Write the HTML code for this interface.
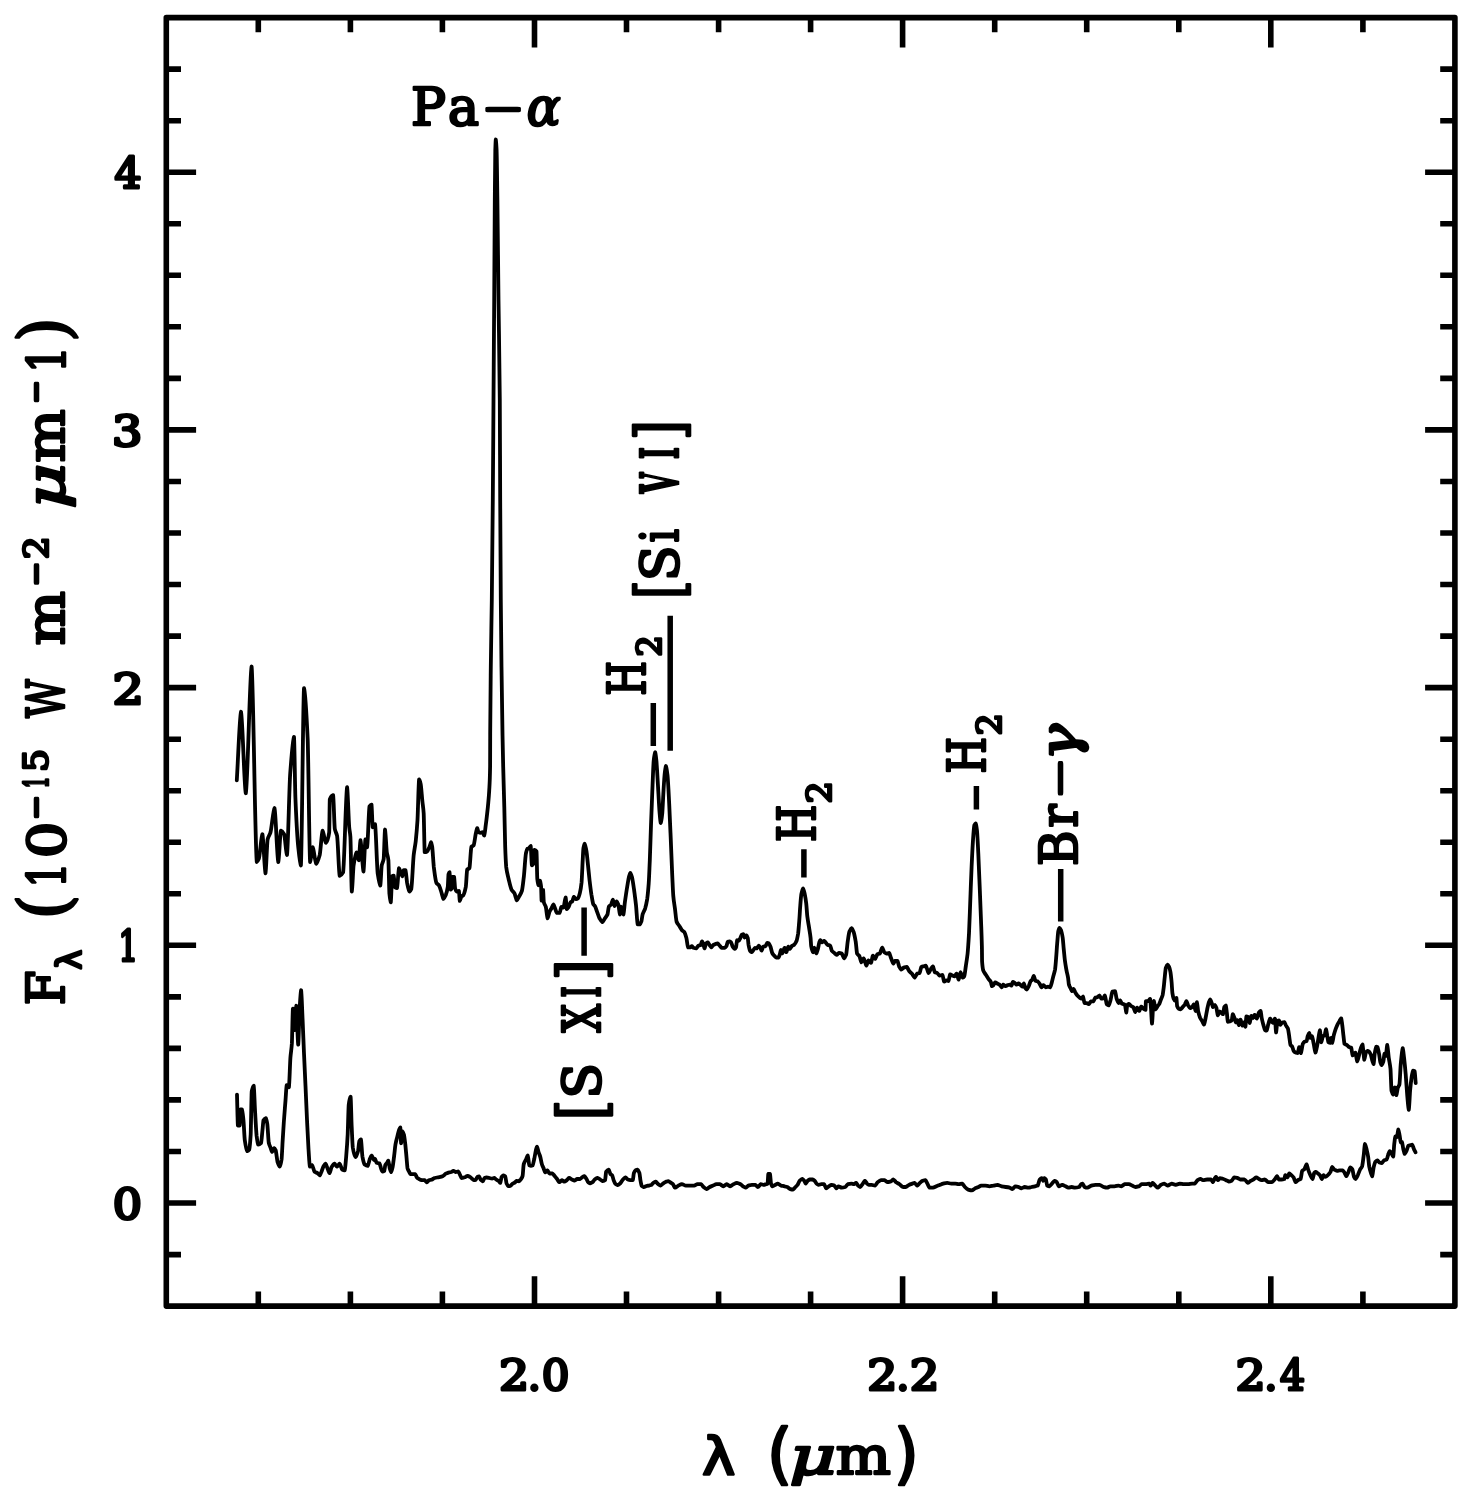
<!DOCTYPE html>
<html><head><meta charset="utf-8"><title>Spectrum</title>
<style>html,body{margin:0;padding:0;background:#fff}svg{display:block}</style></head>
<body>
<svg width="1469" height="1497" viewBox="0 0 1469 1497">
<rect width="1469" height="1497" fill="#fff"/>
<rect x="166.3" y="17.6" width="1288.6" height="1288.5" fill="none" stroke="#000" stroke-width="5.6" stroke-linejoin="round"/>
<path d="M258.3 1306.1V1291.4M258.3 17.6V32.3M350.4 1306.1V1291.4M350.4 17.6V32.3M442.4 1306.1V1291.4M442.4 17.6V32.3M534.5 1306.1V1276.3M534.5 17.6V47.4M626.5 1306.1V1291.4M626.5 17.6V32.3M718.6 1306.1V1291.4M718.6 17.6V32.3M810.6 1306.1V1291.4M810.6 17.6V32.3M902.6 1306.1V1276.3M902.6 17.6V47.4M994.7 1306.1V1291.4M994.7 17.6V32.3M1086.7 1306.1V1291.4M1086.7 17.6V32.3M1178.8 1306.1V1291.4M1178.8 17.6V32.3M1270.8 1306.1V1276.3M1270.8 17.6V47.4M1362.9 1306.1V1291.4M1362.9 17.6V32.3M166.3 1254.6H181.0M1454.9 1254.6H1440.2M166.3 1203.0H196.1M1454.9 1203.0H1425.1M166.3 1151.5H181.0M1454.9 1151.5H1440.2M166.3 1099.9H181.0M1454.9 1099.9H1440.2M166.3 1048.4H181.0M1454.9 1048.4H1440.2M166.3 996.9H181.0M1454.9 996.9H1440.2M166.3 945.3H196.1M1454.9 945.3H1425.1M166.3 893.8H181.0M1454.9 893.8H1440.2M166.3 842.2H181.0M1454.9 842.2H1440.2M166.3 790.7H181.0M1454.9 790.7H1440.2M166.3 739.2H181.0M1454.9 739.2H1440.2M166.3 687.6H196.1M1454.9 687.6H1425.1M166.3 636.1H181.0M1454.9 636.1H1440.2M166.3 584.5H181.0M1454.9 584.5H1440.2M166.3 533.0H181.0M1454.9 533.0H1440.2M166.3 481.5H181.0M1454.9 481.5H1440.2M166.3 429.9H196.1M1454.9 429.9H1425.1M166.3 378.4H181.0M1454.9 378.4H1440.2M166.3 326.8H181.0M1454.9 326.8H1440.2M166.3 275.3H181.0M1454.9 275.3H1440.2M166.3 223.8H181.0M1454.9 223.8H1440.2M166.3 172.2H196.1M1454.9 172.2H1425.1M166.3 120.7H181.0M1454.9 120.7H1440.2M166.3 69.1H181.0M1454.9 69.1H1440.2" fill="none" stroke="#000" stroke-width="5.6"/>
<path d="M584.1 907.6V955.8M653.3 703V746M670.2 615.7V750.7M803.9 849.3V877.5M976.4 786V809.6M1060.7 868.9V921.6" fill="none" stroke="#000" stroke-width="5.5"/>
<path d="M236.8 780.3C238.2 757.4 239.6 716.3 241.0 711.7C242.6 717.1 244.2 787.9 245.8 793.3C247.7 784.8 249.7 675.0 251.6 666.5C253.3 679.5 255.1 849.0 256.8 862.0C257.5 861.8 258.2 860.2 258.9 858.5C260.1 854.5 261.2 835.8 262.4 834.2C263.4 836.8 264.5 870.6 265.5 873.2C266.2 870.9 266.9 844.1 267.6 839.4C268.6 835.6 269.5 835.5 270.5 832.4C271.8 827.2 273.2 809.7 274.5 808.1C275.8 811.7 277.0 858.4 278.3 862.0C279.2 859.9 280.0 832.8 280.9 830.7C282.0 830.9 283.0 832.3 284.1 834.2C285.1 837.1 286.0 853.6 287.0 855.0C288.0 849.7 289.1 792.4 290.1 775.1C291.4 757.5 292.7 739.4 294.0 736.9C294.5 741.0 294.9 783.7 295.4 797.7C296.3 819.3 297.1 834.3 298.0 844.6C299.0 854.0 299.9 864.0 300.9 865.4C301.9 853.6 303.0 700.0 304.0 688.2C305.2 691.6 306.5 713.7 307.7 739.5C308.5 762.2 309.3 853.8 310.1 862.0C311.0 861.0 311.8 848.2 312.7 847.2C313.9 848.3 315.0 862.6 316.2 863.7C317.4 863.1 318.5 859.2 319.7 855.0C320.7 850.4 321.6 832.3 322.6 830.7C323.7 831.5 324.7 842.0 325.8 842.8C326.9 842.1 328.1 839.7 329.2 832.4C329.4 829.0 329.6 802.1 329.8 799.4C330.9 796.2 332.0 795.4 333.1 795.1C333.7 797.4 334.2 824.2 334.8 828.9C335.6 832.7 336.3 832.4 337.1 835.9C338.0 842.0 338.8 873.2 339.7 875.9C340.8 875.7 342.0 874.4 343.1 872.4C344.4 864.7 345.8 792.9 347.1 787.2C347.8 789.9 348.5 818.4 349.2 827.2C349.6 831.3 350.0 832.0 350.4 836.8C350.9 845.3 351.3 887.9 351.8 891.5C352.4 889.8 353.0 870.6 353.6 865.4C354.6 859.0 355.5 853.3 356.5 852.4C357.3 852.9 358.0 859.7 358.8 860.2C359.4 858.9 359.9 841.5 360.5 840.2C361.5 842.3 362.5 869.4 363.5 871.5C364.1 869.4 364.8 841.5 365.4 839.4C366.0 839.9 366.5 846.7 367.1 847.2C367.9 844.5 368.7 810.2 369.5 806.4C370.2 805.4 370.8 804.7 371.5 804.6C371.9 806.1 372.3 825.7 372.7 827.2C373.3 827.0 373.8 825.2 374.4 824.6C374.6 824.4 374.8 824.1 375.0 824.1C375.9 827.4 376.8 865.0 377.7 873.6C378.6 879.5 379.4 884.8 380.3 885.6C380.8 884.3 381.2 868.9 381.7 865.5C382.4 862.1 383.0 862.6 383.7 858.9C384.1 854.8 384.6 831.5 385.0 829.5C385.6 831.0 386.2 847.3 386.8 852.2C387.3 855.8 387.9 855.7 388.4 860.2C388.7 864.9 389.1 888.5 389.4 893.6C389.9 898.2 390.3 901.7 390.8 902.3C391.2 900.6 391.7 878.2 392.1 876.2C392.6 875.8 393.2 875.6 393.7 875.6C394.1 876.4 394.4 885.8 394.8 886.9C395.5 887.7 396.3 888.1 397.0 888.2C397.7 886.9 398.3 869.5 399.0 868.2C399.5 868.4 399.9 870.5 400.4 871.6C401.1 873.2 401.7 875.9 402.4 876.2C402.8 875.8 403.3 870.6 403.7 870.2C404.3 870.2 404.9 870.2 405.5 870.2C406.0 871.0 406.6 879.9 407.1 882.9C407.9 886.7 408.7 891.0 409.5 891.6C410.1 891.4 410.7 890.3 411.3 888.9C412.1 885.0 412.9 862.9 413.7 854.9C414.4 849.2 415.0 847.0 415.7 841.5C416.3 835.9 416.9 829.4 417.5 820.1C418.0 810.4 418.6 782.1 419.1 779.4C419.6 779.7 420.2 781.9 420.7 784.1C421.3 787.3 421.8 795.8 422.4 801.4C422.8 805.6 423.3 807.3 423.7 813.5C424.0 820.2 424.4 849.6 424.7 852.2C425.5 852.2 426.3 851.9 427.1 851.5C427.9 850.9 428.7 848.6 429.5 846.8C430.0 845.5 430.6 842.5 431.1 842.2C431.5 842.5 431.8 844.7 432.2 846.8C432.7 850.7 433.3 861.9 433.8 866.9C434.7 873.9 435.5 880.6 436.4 882.9C437.3 884.3 438.2 884.3 439.1 885.6C440.0 887.2 440.9 890.8 441.8 893.6C442.3 895.3 442.9 898.5 443.4 898.9C444.2 898.6 445.0 896.7 445.8 894.9C446.5 893.1 447.1 891.3 447.8 886.9C448.0 884.7 448.3 875.8 448.5 874.2C448.8 873.1 449.2 872.3 449.5 872.2C449.9 873.4 450.3 888.4 450.7 889.6C451.1 889.5 451.4 889.0 451.8 888.2C452.0 887.0 452.3 877.7 452.5 876.9C453.0 876.9 453.6 876.9 454.1 876.9C454.4 877.7 454.8 886.4 455.1 888.2C455.6 890.0 456.2 891.4 456.7 891.6C457.4 891.6 458.2 890.9 458.9 890.9C459.2 891.6 459.5 900.2 459.8 900.9C460.4 900.6 460.9 896.9 461.5 896.3C462.0 895.9 462.6 896.0 463.1 895.6C464.0 894.5 464.9 891.4 465.8 886.9C466.3 883.7 466.7 871.1 467.2 869.5C467.9 868.7 468.7 869.0 469.4 868.2C470.1 866.2 470.7 848.8 471.4 846.8C472.1 846.0 472.9 846.2 473.6 845.5C474.3 844.1 475.1 836.9 475.8 833.5C476.3 831.5 476.7 828.5 477.2 828.1C477.6 828.4 478.1 831.7 478.5 832.2C479.2 832.6 479.8 832.8 480.5 832.8C481.2 832.8 481.8 832.2 482.5 832.2C483.1 832.4 483.6 835.3 484.2 835.5C484.8 834.7 485.3 828.3 485.9 824.1C486.6 818.9 487.2 813.4 487.9 806.8C488.3 802.2 488.8 797.8 489.2 790.8C489.5 785.1 489.8 783.7 490.1 766.7C490.1 762.8 490.2 741.2 490.2 734.0C490.4 699.4 490.6 685.2 490.8 667.0C491.1 639.7 491.5 625.9 491.8 600.0C492.1 571.9 492.5 538.4 492.8 500.0C493.0 471.1 493.3 433.3 493.5 400.0C493.7 366.7 494.0 335.4 494.2 300.0C494.4 268.7 494.6 226.5 494.8 200.0C495.0 180.1 495.1 158.0 495.3 150.0C495.5 144.7 495.6 140.2 495.8 139.5C496.1 140.2 496.3 144.7 496.6 150.0C496.9 158.0 497.1 181.0 497.4 200.0C497.8 228.2 498.1 268.8 498.5 300.0C498.9 335.6 499.4 348.3 499.8 400.0C499.9 420.5 500.1 471.7 500.2 500.0C500.4 539.1 500.6 573.7 500.8 600.0C501.0 627.3 501.3 647.7 501.5 667.0C501.8 692.7 502.2 714.9 502.5 734.0C502.7 746.4 503.0 757.1 503.2 767.0C503.6 781.8 503.9 792.6 504.3 807.0C504.6 819.3 504.9 837.7 505.2 847.0C505.5 855.7 505.9 863.3 506.2 867.0C507.0 873.4 507.8 875.5 508.6 879.0C509.6 883.0 510.5 887.4 511.5 889.6C512.5 891.5 513.6 891.8 514.6 893.6C515.3 895.1 516.1 899.9 516.8 900.3C517.6 900.0 518.4 897.7 519.2 896.3C520.1 894.6 521.0 893.6 521.9 890.9C522.6 888.2 523.2 881.9 523.9 876.2C524.6 869.9 525.2 857.7 525.9 853.5C526.4 851.3 526.8 849.3 527.3 848.8C527.8 848.6 528.3 848.6 528.8 848.4C529.4 848.0 530.1 846.2 530.7 846.0C531.1 847.3 531.5 864.0 531.9 865.3C532.4 865.2 533.0 864.7 533.5 863.7C533.8 862.2 534.2 850.8 534.5 849.9C535.2 850.0 535.8 850.4 536.5 851.4C536.8 853.6 537.0 875.3 537.3 879.1C537.7 882.5 538.1 884.8 538.5 885.2C539.0 884.9 539.4 880.9 539.9 880.6C540.3 881.0 540.7 883.3 541.1 886.8C541.3 889.0 541.4 899.7 541.6 900.6C542.1 899.9 542.6 890.6 543.1 889.9C543.3 890.7 543.6 900.4 543.8 902.1C544.5 904.9 545.1 904.6 545.8 906.8C546.4 909.2 547.0 917.5 547.6 918.3C548.3 917.8 548.9 913.0 549.6 911.4C550.1 910.4 550.6 909.9 551.1 909.1C551.9 907.7 552.6 904.8 553.4 904.5C554.0 904.8 554.7 907.5 555.3 909.1C555.8 910.3 556.3 912.6 556.8 912.9C557.7 912.9 558.7 912.9 559.6 912.9C560.2 912.5 560.8 907.2 561.4 906.8C562.1 906.8 562.7 907.5 563.4 907.5C564.2 906.8 564.9 898.2 565.7 897.5C566.1 898.3 566.4 908.3 566.8 909.1C567.3 909.0 567.8 908.2 568.3 907.5C569.1 906.2 569.9 902.9 570.7 902.1C571.2 901.8 571.7 901.8 572.2 901.4C572.8 900.7 573.3 897.1 573.9 896.8C574.6 897.0 575.3 898.9 576.0 899.1C576.7 899.0 577.3 898.7 578.0 898.3C578.6 897.6 579.3 895.3 579.9 892.9C580.5 890.4 581.0 887.5 581.6 882.2C581.9 878.2 582.3 868.5 582.6 862.2C582.9 857.3 583.1 850.7 583.4 848.4C583.8 846.0 584.2 844.0 584.6 843.7C585.2 844.2 585.9 848.0 586.5 851.4C586.9 854.0 587.3 858.5 587.7 862.2C588.3 868.1 589.0 875.0 589.6 880.6C590.2 885.6 590.8 890.6 591.4 894.5C592.1 898.4 592.7 903.0 593.4 904.5C593.9 905.2 594.4 905.3 594.9 906.0C595.7 907.3 596.4 910.1 597.2 912.1C598.0 914.2 598.7 916.8 599.5 918.3C600.4 919.9 601.4 921.8 602.3 922.1C603.2 921.8 604.0 919.6 604.9 918.3C605.8 917.0 606.6 916.4 607.5 914.4C607.9 913.0 608.4 907.9 608.8 906.8C609.6 905.5 610.3 905.6 611.1 904.5C611.7 903.5 612.3 900.1 612.9 899.8C613.4 900.2 614.0 905.6 614.5 906.0C615.2 905.7 615.8 901.7 616.5 901.4C617.1 901.6 617.7 903.0 618.3 904.5C618.9 906.4 619.4 913.7 620.0 914.4C620.4 913.9 620.7 907.3 621.1 906.8C621.9 907.3 622.6 913.9 623.4 914.4C623.9 913.6 624.4 905.9 624.9 902.1C625.7 896.5 626.4 891.6 627.2 886.8C627.7 883.6 628.3 879.9 628.8 877.6C629.3 875.7 629.8 873.2 630.3 872.9C630.9 873.2 631.5 875.5 632.1 877.6C632.8 880.4 633.4 885.4 634.1 889.9C634.7 894.5 635.4 899.4 636.0 905.2C636.6 910.8 637.1 923.1 637.7 924.4C638.4 924.4 639.1 924.4 639.8 924.4C640.3 924.2 640.9 922.8 641.4 921.4C641.8 920.0 642.2 916.0 642.6 914.4C643.5 911.5 644.3 910.9 645.2 908.3C645.9 906.0 646.5 903.2 647.2 899.1C647.7 895.5 648.2 890.3 648.7 883.7C649.1 878.0 649.4 869.3 649.8 860.6C650.2 850.4 650.6 836.5 651.0 825.3C651.4 813.5 651.9 802.0 652.3 791.5C652.8 780.5 653.2 766.1 653.7 760.7C654.2 756.5 654.7 752.9 655.2 752.3C655.6 752.9 656.0 757.1 656.4 760.7C657.0 767.6 657.7 781.1 658.3 791.5C658.7 798.1 659.1 806.3 659.5 811.5C659.9 816.2 660.3 822.2 660.7 823.0C661.2 822.3 661.8 817.8 662.3 813.0C662.6 809.2 663.0 800.3 663.3 794.6C663.7 787.4 664.2 779.1 664.6 774.6C665.0 770.9 665.5 766.7 665.9 766.1C666.5 766.8 667.0 771.4 667.6 776.1C668.1 781.7 668.7 793.6 669.2 803.8C669.7 813.9 670.2 825.9 670.7 837.6C671.2 849.5 671.7 863.4 672.2 874.5C672.6 882.3 672.9 891.2 673.3 896.0C673.8 901.7 674.4 904.2 674.9 908.3C675.5 912.7 676.0 919.6 676.6 921.7C677.5 924.0 678.5 924.5 679.4 926.0C680.3 927.4 681.2 929.4 682.1 930.4C682.8 931.1 683.6 931.2 684.3 932.0C685.0 933.1 685.7 935.5 686.4 938.0C687.0 940.3 687.5 946.7 688.1 947.3C688.8 947.3 689.5 947.3 690.2 947.3C690.8 947.2 691.3 946.3 691.9 946.2C692.4 946.3 693.0 947.5 693.5 947.8C694.4 948.1 695.3 948.4 696.2 948.4C696.9 948.2 697.7 946.1 698.4 945.7C699.1 945.4 699.9 945.4 700.6 945.1C701.1 944.6 701.5 941.6 702.0 941.3C702.4 941.4 702.7 942.6 703.1 943.5C703.6 944.8 704.1 948.1 704.6 948.4C705.1 948.1 705.5 944.2 706.0 943.5C706.6 942.9 707.1 942.5 707.7 942.4C708.3 942.6 709.0 944.2 709.6 945.1C710.1 945.8 710.7 947.2 711.2 947.3C711.8 947.2 712.5 945.6 713.1 945.1C713.8 944.6 714.6 944.3 715.3 944.0C716.0 943.8 716.8 943.5 717.5 943.5C718.2 943.6 719.0 945.0 719.7 945.7C720.4 946.4 721.1 947.7 721.8 947.8C722.7 947.8 723.7 947.8 724.6 947.8C725.2 947.7 725.8 947.0 726.4 946.2C726.9 945.4 727.3 942.3 727.8 941.8C728.4 941.5 728.9 941.3 729.5 941.3C730.0 941.4 730.6 941.9 731.1 942.4C731.6 943.2 732.2 945.7 732.7 946.7C733.4 947.7 734.0 948.8 734.7 948.9C735.1 948.8 735.6 948.1 736.0 947.3C736.4 946.2 736.7 940.7 737.1 940.2C737.6 940.2 738.2 940.8 738.7 940.8C739.3 940.6 739.8 939.1 740.4 938.0C740.8 937.1 741.3 935.2 741.7 934.8C742.3 934.5 742.8 934.2 743.4 934.2C743.8 934.4 744.3 937.3 744.7 937.5C745.2 937.4 745.8 935.4 746.3 935.3C746.8 935.5 747.3 936.5 747.8 938.0C748.0 939.1 748.3 943.1 748.5 944.6C749.1 947.7 749.6 950.1 750.2 951.1C750.7 951.7 751.3 952.1 751.8 952.2C752.3 952.1 752.9 950.7 753.4 950.0C754.0 949.2 754.5 947.9 755.1 947.8C755.7 947.8 756.3 948.4 756.9 948.4C757.5 948.2 758.1 945.9 758.7 945.7C759.2 945.8 759.7 946.6 760.2 947.3C760.7 948.1 761.1 950.4 761.6 950.6C762.1 950.3 762.7 947.1 763.2 946.7C763.9 946.4 764.7 946.5 765.4 946.2C766.1 945.8 766.7 943.1 767.4 942.9C767.9 942.9 768.4 943.2 768.9 943.5C769.4 944.0 770.0 945.4 770.5 946.7C771.1 948.4 771.7 952.0 772.3 953.3C772.9 954.3 773.5 954.8 774.1 955.5C774.8 956.3 775.6 957.5 776.3 957.6C777.0 957.6 777.8 957.6 778.5 957.6C778.9 957.4 779.4 955.7 779.8 954.4C780.2 953.2 780.5 950.3 780.9 950.0C781.4 950.2 781.8 953.1 782.3 953.3C783.0 952.9 783.8 948.2 784.5 947.8C785.1 948.1 785.7 951.9 786.3 952.2C787.0 951.8 787.6 947.1 788.3 946.7C788.8 946.8 789.4 948.8 789.9 948.9C790.6 948.7 791.4 946.3 792.1 945.7C792.8 945.2 793.6 945.1 794.3 944.6C795.0 944.0 795.7 942.8 796.4 941.3C797.0 939.7 797.5 937.2 798.1 933.7C798.5 931.0 798.8 926.2 799.2 921.7C799.6 916.9 799.9 910.2 800.3 905.4C800.6 901.3 801.0 896.7 801.3 894.5C801.9 891.6 802.4 888.9 803.0 888.5C803.5 888.8 804.1 891.3 804.6 893.4C805.1 895.8 805.7 899.0 806.2 903.2C806.6 906.5 806.9 912.8 807.3 916.2C807.9 920.8 808.4 923.4 809.0 927.1C809.5 930.6 810.1 933.2 810.6 938.0C810.8 940.1 811.0 944.7 811.2 946.2C811.8 949.5 812.5 951.8 813.1 952.2C813.5 951.9 814.0 948.1 814.4 947.8C815.1 948.2 815.7 952.9 816.4 953.3C816.9 953.0 817.4 950.6 817.9 948.9C818.4 947.1 818.8 943.9 819.3 942.4C819.7 941.4 820.0 940.3 820.4 940.2C820.9 940.3 821.5 942.3 822.0 942.4C822.7 942.3 823.3 940.9 824.0 940.8C824.3 940.9 824.7 941.3 825.0 941.6C825.9 942.5 826.8 944.3 827.7 944.9C828.5 945.2 829.3 945.2 830.1 945.6C830.7 946.2 831.3 949.9 831.9 950.9C832.7 951.9 833.5 952.2 834.3 952.9C835.1 953.6 836.0 954.8 836.8 954.9C837.5 954.8 838.3 953.0 839.0 952.9C839.9 952.9 840.8 953.2 841.7 953.6C842.5 954.2 843.3 958.0 844.1 958.3C844.8 958.1 845.4 956.7 846.1 954.9C846.6 952.8 847.2 945.4 847.7 941.6C848.3 937.8 848.8 933.4 849.4 931.6C850.2 929.9 850.9 928.4 851.7 928.2C852.4 928.5 853.0 930.4 853.7 932.2C854.4 934.3 855.0 937.7 855.7 941.6C856.2 944.7 856.6 952.0 857.1 953.6C857.9 955.1 858.7 955.0 859.5 956.3C860.1 957.5 860.7 961.9 861.3 962.3C862.1 962.0 862.9 958.6 863.7 958.3C864.6 958.8 865.5 965.1 866.4 965.6C867.1 965.2 867.7 960.7 868.4 960.3C869.3 960.5 870.2 962.7 871.1 962.9C871.7 962.4 872.2 956.1 872.8 955.6C873.6 955.8 874.3 958.7 875.1 958.9C875.9 958.6 876.6 954.9 877.4 954.3C878.2 953.9 879.0 954.0 879.8 953.6C880.6 952.9 881.4 948.0 882.2 947.6C882.9 947.9 883.7 951.5 884.4 952.3C885.2 952.9 885.9 953.5 886.7 953.6C887.5 953.6 888.3 952.9 889.1 952.9C889.8 953.3 890.4 956.6 891.1 958.3C891.9 960.2 892.6 963.2 893.4 963.6C894.0 963.4 894.5 961.1 895.1 960.9C895.9 960.9 896.6 960.9 897.4 960.9C898.0 961.3 898.5 964.9 899.1 966.3C899.8 967.7 900.4 969.4 901.1 969.6C902.0 969.5 902.9 968.0 903.8 967.6C904.8 967.3 905.7 966.9 906.7 966.9C907.5 967.2 908.3 969.9 909.1 971.0C910.0 972.1 910.9 972.6 911.8 973.6C912.8 974.7 913.7 977.3 914.7 977.6C915.5 977.3 916.4 974.2 917.2 973.6C918.0 973.3 918.8 973.4 919.6 973.0C920.2 972.4 920.8 967.5 921.4 966.9C922.2 966.5 923.0 966.5 923.8 966.3C924.5 966.1 925.1 965.6 925.8 965.6C926.7 966.1 927.6 972.5 928.5 973.0C929.2 972.8 929.8 970.6 930.5 969.6C931.3 968.4 932.1 966.5 932.9 966.3C933.5 966.7 934.2 971.6 934.8 972.3C935.6 972.7 936.4 972.7 937.2 973.0C938.0 973.5 938.8 975.4 939.6 975.6C940.6 975.6 941.5 975.0 942.5 975.0C943.0 975.4 943.6 981.2 944.1 981.6C944.9 981.5 945.7 980.4 946.5 980.3C947.2 980.3 947.8 981.0 948.5 981.0C949.0 980.6 949.6 974.7 950.1 974.3C950.9 974.4 951.7 975.2 952.5 975.6C953.2 975.9 953.8 976.3 954.5 976.3C955.2 976.1 955.9 973.8 956.6 973.6C957.3 974.0 957.9 979.2 958.6 979.6C959.3 979.1 959.9 972.8 960.6 972.3C961.3 972.7 961.9 977.2 962.6 977.6C963.1 977.5 963.7 977.0 964.2 976.3C964.8 974.9 965.3 969.3 965.9 965.6C966.5 961.8 967.0 958.7 967.6 953.6C968.1 948.7 968.5 941.8 969.0 933.6C969.4 925.0 969.9 911.3 970.3 900.2C970.7 889.1 971.2 876.6 971.6 866.8C972.1 856.8 972.5 847.2 973.0 840.1C973.4 834.2 973.9 827.3 974.3 825.4C974.8 824.3 975.2 823.5 975.7 823.4C976.1 823.9 976.6 827.3 977.0 830.7C977.4 835.2 977.9 844.9 978.3 853.4C978.8 863.1 979.2 875.3 979.7 886.8C980.1 897.6 980.6 908.4 981.0 920.2C981.3 928.6 981.6 933.9 981.9 946.9C982.0 950.4 982.0 959.8 982.1 961.7C982.5 967.4 982.8 968.9 983.2 970.4C984.1 972.8 985.0 973.3 985.9 974.8C986.8 976.2 987.7 977.8 988.6 979.1C989.3 980.1 990.1 980.4 990.8 981.8C991.2 982.7 991.5 985.9 991.9 986.2C992.4 986.1 993.0 985.6 993.5 985.1C994.1 984.5 994.6 982.6 995.2 982.4C995.9 982.5 996.6 983.1 997.3 983.5C998.0 983.9 998.8 984.1 999.5 984.6C1000.2 985.2 1001.0 987.1 1001.7 987.3C1002.2 987.1 1002.8 984.8 1003.3 984.6C1004.0 984.7 1004.8 986.1 1005.5 986.2C1006.2 986.1 1007.0 985.4 1007.7 985.1C1008.4 984.9 1009.2 984.6 1009.9 984.6C1010.4 984.7 1011.0 985.6 1011.5 985.7C1012.0 985.4 1012.4 982.1 1012.9 981.8C1013.5 981.9 1014.2 982.4 1014.8 982.9C1015.3 983.3 1015.9 984.5 1016.4 984.6C1017.1 984.5 1017.9 983.6 1018.6 983.5C1019.3 983.6 1020.0 984.5 1020.7 985.1C1021.3 985.6 1021.8 986.6 1022.4 986.7C1022.9 986.5 1023.3 983.7 1023.8 983.5C1024.3 983.8 1024.8 986.8 1025.3 987.8C1025.8 988.5 1026.2 989.4 1026.7 989.5C1027.4 989.2 1028.2 987.2 1028.9 985.7C1029.4 984.5 1030.0 982.2 1030.5 981.3C1031.1 980.6 1031.6 980.4 1032.2 979.7C1032.7 978.9 1033.3 976.2 1033.8 975.9C1034.4 976.2 1034.9 980.3 1035.5 980.8C1036.2 981.1 1036.9 981.0 1037.6 981.3C1038.3 981.7 1039.1 982.9 1039.8 984.0C1040.3 984.9 1040.9 987.1 1041.4 987.3C1042.1 987.2 1042.7 985.2 1043.4 985.1C1044.2 985.2 1045.0 987.2 1045.8 987.3C1046.5 987.3 1047.3 986.7 1048.0 986.7C1048.7 986.7 1049.5 987.3 1050.2 987.3C1050.7 987.0 1051.3 984.2 1051.8 982.4C1052.3 980.5 1052.9 978.0 1053.4 975.9C1054.0 973.7 1054.5 972.4 1055.1 969.3C1055.4 967.0 1055.8 962.4 1056.1 958.4C1056.5 953.8 1056.8 947.8 1057.2 943.2C1057.6 938.8 1057.9 933.4 1058.3 931.2C1058.7 929.6 1059.0 928.1 1059.4 927.9C1059.9 928.0 1060.5 929.1 1061.0 930.1C1061.6 931.6 1062.1 934.2 1062.7 937.7C1063.1 940.4 1063.4 945.9 1063.8 949.7C1064.2 953.5 1064.5 957.6 1064.9 960.6C1065.4 964.5 1066.0 967.5 1066.5 970.4C1067.0 973.2 1067.6 974.8 1068.1 978.0C1068.4 979.8 1068.6 983.4 1068.9 984.6C1069.6 986.9 1070.2 987.5 1070.9 988.9C1071.2 989.6 1071.6 991.0 1071.9 991.1C1072.5 991.0 1073.0 989.0 1073.6 988.9C1074.1 989.1 1074.7 991.2 1075.2 992.2C1075.9 993.4 1076.7 994.6 1077.4 995.5C1078.1 996.3 1078.9 997.0 1079.6 997.6C1080.2 998.0 1080.9 998.6 1081.5 998.7C1082.0 998.6 1082.5 996.6 1083.0 996.5C1083.5 996.9 1084.0 1002.7 1084.5 1003.1C1085.2 1003.1 1085.9 1003.1 1086.6 1003.1C1087.3 1003.2 1088.1 1004.1 1088.8 1004.2C1089.5 1004.0 1090.3 1001.6 1091.0 1001.4C1091.7 1001.4 1092.5 1001.4 1093.2 1001.4C1093.9 1001.1 1094.7 998.1 1095.4 997.6C1096.1 997.3 1096.8 997.3 1097.5 997.1C1098.1 996.8 1098.8 995.6 1099.4 995.5C1100.0 995.7 1100.7 998.5 1101.3 998.7C1102.0 998.7 1102.6 998.5 1103.3 998.2C1103.8 997.8 1104.3 995.7 1104.8 995.5C1105.5 996.1 1106.1 1003.1 1106.8 1004.2C1107.5 1004.8 1108.1 1005.2 1108.8 1005.3C1109.4 1004.9 1110.0 1001.9 1110.6 999.8C1111.2 997.4 1111.9 992.3 1112.5 991.6C1113.3 991.3 1114.2 991.1 1115.0 991.1C1115.5 991.6 1116.1 996.9 1116.6 998.7C1117.3 1000.6 1117.9 1002.8 1118.6 1003.1C1119.1 1002.9 1119.6 1000.6 1120.1 1000.4C1120.7 1000.6 1121.2 1003.1 1121.8 1003.6C1122.4 1003.9 1123.1 1003.9 1123.7 1004.2C1124.1 1004.4 1124.6 1004.6 1125.0 1005.0C1125.4 1005.9 1125.9 1012.1 1126.3 1012.6C1126.6 1012.1 1126.9 1005.8 1127.2 1005.0C1127.7 1004.3 1128.3 1004.0 1128.8 1003.9C1129.5 1004.0 1130.3 1005.5 1131.0 1006.0C1131.7 1006.5 1132.5 1006.5 1133.2 1007.1C1133.9 1007.9 1134.6 1011.7 1135.3 1012.0C1135.9 1011.7 1136.4 1008.0 1137.0 1007.7C1137.7 1007.9 1138.5 1010.7 1139.2 1010.9C1139.9 1010.6 1140.6 1006.9 1141.3 1006.6C1142.0 1006.7 1142.8 1008.2 1143.5 1008.8C1144.2 1009.3 1144.8 1009.8 1145.5 1009.9C1145.6 1009.3 1145.8 1001.7 1145.9 1001.1C1146.6 1001.1 1147.4 1001.1 1148.1 1001.1C1148.8 1001.0 1149.4 999.1 1150.1 999.0C1150.4 999.5 1150.6 1004.0 1150.9 1007.1C1151.3 1011.7 1151.6 1022.4 1152.0 1023.5C1152.4 1022.4 1152.7 1011.1 1153.1 1007.1C1153.4 1004.6 1153.6 1001.5 1153.9 1001.1C1154.4 1001.6 1155.0 1008.8 1155.5 1009.3C1156.2 1009.1 1157.0 1007.0 1157.7 1006.0C1158.2 1005.3 1158.8 1004.8 1159.3 1003.9C1159.8 1002.8 1160.4 1000.9 1160.9 999.5C1161.5 998.0 1162.0 997.2 1162.6 995.2C1163.0 993.6 1163.3 990.4 1163.7 987.5C1164.1 984.4 1164.4 980.0 1164.8 976.6C1165.1 973.6 1165.5 969.4 1165.8 967.9C1166.4 966.2 1166.9 964.9 1167.5 964.7C1168.0 964.8 1168.6 965.8 1169.1 966.8C1169.6 967.9 1170.0 969.9 1170.5 972.3C1170.9 974.6 1171.2 978.3 1171.6 982.1C1171.9 985.2 1172.1 990.7 1172.4 993.0C1172.8 995.5 1173.1 997.4 1173.5 998.4C1174.0 999.5 1174.6 1000.5 1175.1 1000.6C1175.5 1000.4 1176.0 998.1 1176.4 997.9C1176.6 998.4 1176.9 1004.9 1177.1 1006.0C1177.7 1007.7 1178.3 1008.4 1178.9 1008.8C1179.4 1009.1 1180.0 1009.3 1180.5 1009.3C1181.2 1009.2 1182.0 1007.9 1182.7 1007.1C1183.4 1006.3 1184.2 1005.5 1184.9 1004.4C1185.4 1003.5 1186.0 1001.3 1186.5 1001.1C1187.1 1001.4 1187.6 1004.4 1188.2 1005.5C1188.9 1006.7 1189.7 1008.0 1190.4 1008.2C1191.1 1008.1 1191.8 1007.3 1192.5 1006.6C1192.9 1006.1 1193.4 1004.5 1193.8 1004.4C1194.4 1004.8 1195.0 1010.5 1195.6 1010.9C1196.0 1010.3 1196.5 1002.8 1196.9 1002.2C1197.3 1002.8 1197.8 1009.3 1198.2 1011.5C1198.9 1014.4 1199.5 1016.4 1200.2 1018.0C1200.9 1019.4 1201.6 1020.1 1202.3 1021.3C1202.9 1022.3 1203.4 1024.4 1204.0 1024.6C1204.5 1024.2 1205.1 1020.4 1205.6 1018.0C1206.1 1015.4 1206.7 1011.9 1207.2 1009.3C1207.8 1006.7 1208.3 1003.9 1208.9 1002.2C1209.3 1001.1 1209.8 999.7 1210.2 999.5C1210.7 999.7 1211.1 1001.6 1211.6 1002.8C1212.1 1004.1 1212.5 1006.8 1213.0 1007.1C1213.6 1007.0 1214.3 1005.1 1214.9 1005.0C1215.4 1005.2 1216.0 1006.7 1216.5 1008.2C1216.9 1009.7 1217.4 1014.8 1217.8 1015.3C1218.5 1015.0 1219.1 1011.8 1219.8 1011.5C1220.3 1011.6 1220.9 1012.2 1221.4 1012.6C1221.9 1013.1 1222.5 1014.1 1223.0 1014.2C1223.4 1013.7 1223.9 1008.2 1224.3 1007.1C1224.8 1006.3 1225.3 1005.6 1225.8 1005.5C1226.1 1006.0 1226.5 1010.1 1226.8 1012.6C1227.2 1015.5 1227.5 1021.2 1227.9 1021.8C1228.6 1021.8 1229.4 1021.5 1230.1 1021.3C1230.6 1021.1 1231.2 1020.8 1231.7 1020.2C1232.1 1019.4 1232.4 1014.6 1232.8 1014.2C1233.4 1014.5 1233.9 1016.6 1234.5 1018.0C1235.0 1019.3 1235.4 1022.1 1235.9 1022.4C1236.4 1022.3 1236.9 1020.3 1237.4 1020.2C1237.9 1020.5 1238.3 1024.8 1238.8 1025.1C1239.4 1024.7 1239.9 1020.1 1240.5 1019.7C1241.1 1020.1 1241.8 1025.3 1242.4 1025.7C1242.8 1025.5 1243.3 1022.6 1243.7 1022.4C1244.3 1022.7 1244.8 1026.4 1245.4 1026.7C1245.7 1026.0 1246.1 1017.1 1246.4 1016.4C1247.0 1016.4 1247.5 1016.6 1248.1 1016.9C1248.6 1017.5 1249.2 1022.5 1249.7 1022.9C1250.2 1022.4 1250.8 1016.4 1251.3 1015.9C1251.9 1016.0 1252.4 1017.9 1253.0 1018.0C1253.5 1017.8 1254.1 1015.0 1254.6 1014.8C1255.3 1015.1 1256.1 1018.3 1256.8 1018.6C1257.5 1018.2 1258.1 1013.8 1258.8 1012.6C1259.4 1011.8 1260.0 1011.0 1260.6 1010.9C1261.0 1011.4 1261.3 1016.0 1261.7 1018.0C1262.2 1020.6 1262.8 1022.6 1263.3 1024.6C1263.9 1026.6 1264.4 1029.3 1265.0 1030.0C1265.5 1030.3 1266.1 1030.6 1266.6 1030.6C1267.1 1030.2 1267.7 1026.5 1268.2 1024.6C1268.8 1022.5 1269.5 1019.0 1270.1 1018.6C1270.6 1018.8 1271.0 1020.6 1271.5 1021.3C1272.0 1022.0 1272.6 1022.8 1273.1 1022.9C1273.7 1022.6 1274.2 1018.9 1274.8 1018.6C1274.9 1018.6 1274.9 1018.7 1275.0 1018.8C1275.4 1020.2 1275.7 1031.5 1276.1 1032.4C1276.5 1031.6 1277.0 1022.0 1277.4 1021.0C1278.0 1020.7 1278.5 1020.5 1279.1 1020.5C1279.5 1020.8 1279.8 1024.5 1280.2 1024.8C1280.8 1024.7 1281.5 1022.9 1282.1 1022.6C1282.8 1022.3 1283.6 1022.1 1284.3 1022.1C1284.8 1022.3 1285.4 1024.4 1285.9 1025.4C1286.6 1026.6 1287.2 1027.0 1287.9 1028.6C1288.3 1030.0 1288.8 1033.5 1289.2 1036.2C1289.6 1039.0 1290.1 1043.8 1290.5 1045.0C1291.1 1045.9 1291.6 1045.8 1292.2 1046.6C1292.7 1047.5 1293.2 1050.1 1293.7 1050.9C1294.4 1051.7 1295.0 1052.3 1295.7 1052.6C1296.4 1052.8 1297.0 1053.1 1297.7 1053.1C1298.2 1052.7 1298.7 1047.5 1299.2 1047.1C1299.8 1047.5 1300.3 1052.7 1300.9 1053.1C1301.5 1052.5 1302.2 1045.5 1302.8 1043.9C1303.4 1042.8 1304.0 1042.1 1304.6 1041.7C1305.3 1041.4 1305.9 1041.5 1306.6 1041.1C1307.0 1040.6 1307.3 1037.4 1307.7 1036.2C1308.2 1034.8 1308.8 1033.2 1309.3 1033.0C1309.7 1033.3 1310.0 1037.6 1310.4 1037.9C1310.9 1037.8 1311.5 1036.3 1312.0 1036.2C1312.6 1036.7 1313.1 1041.3 1313.7 1043.9C1314.3 1046.7 1314.9 1052.0 1315.5 1052.6C1316.0 1052.2 1316.4 1049.2 1316.9 1047.1C1317.4 1044.7 1317.9 1041.2 1318.4 1038.4C1318.9 1035.6 1319.4 1030.8 1319.9 1030.3C1320.4 1031.1 1320.8 1041.4 1321.3 1042.2C1321.8 1041.8 1322.4 1037.0 1322.9 1036.2C1323.5 1035.7 1324.0 1035.7 1324.6 1035.2C1325.1 1034.4 1325.5 1029.6 1326.0 1029.2C1326.4 1029.7 1326.9 1033.9 1327.3 1036.2C1327.7 1038.2 1328.0 1041.6 1328.4 1042.2C1329.0 1042.6 1329.7 1042.8 1330.3 1042.8C1330.6 1042.5 1330.8 1038.2 1331.1 1037.9C1331.5 1038.2 1331.8 1042.5 1332.2 1042.8C1332.7 1042.3 1333.3 1037.4 1333.8 1035.2C1334.5 1032.7 1335.1 1030.5 1335.8 1028.6C1336.4 1027.0 1337.0 1025.5 1337.6 1024.3C1338.2 1023.2 1338.7 1022.4 1339.3 1021.5C1339.9 1020.4 1340.6 1018.5 1341.2 1018.3C1341.6 1018.8 1341.9 1022.7 1342.3 1025.4C1342.7 1028.2 1343.0 1032.1 1343.4 1035.2C1343.8 1038.2 1344.1 1043.0 1344.5 1043.9C1345.3 1044.6 1346.1 1044.5 1346.9 1045.0C1347.6 1045.5 1348.4 1046.7 1349.1 1047.1C1349.8 1047.4 1350.5 1047.3 1351.2 1047.7C1351.7 1048.4 1352.1 1054.8 1352.6 1055.3C1353.1 1055.2 1353.5 1054.2 1354.0 1053.7C1354.5 1053.3 1354.9 1052.7 1355.4 1052.6C1356.0 1053.2 1356.6 1060.7 1357.2 1061.3C1357.8 1060.9 1358.3 1057.9 1358.9 1055.9C1359.4 1053.9 1360.0 1051.1 1360.5 1049.3C1361.2 1047.3 1361.8 1044.7 1362.5 1044.4C1362.8 1044.9 1363.1 1049.5 1363.4 1052.0C1363.7 1054.6 1364.0 1059.2 1364.3 1059.7C1364.8 1059.2 1365.4 1053.8 1365.9 1052.6C1366.5 1051.7 1367.0 1051.0 1367.6 1050.9C1368.0 1050.9 1368.5 1051.2 1368.9 1051.5C1369.6 1052.1 1370.2 1053.3 1370.9 1054.8C1371.4 1056.3 1372.0 1059.6 1372.5 1061.3C1372.9 1062.4 1373.2 1063.8 1373.6 1064.0C1374.0 1063.3 1374.3 1056.2 1374.7 1053.7C1375.2 1050.6 1375.8 1047.1 1376.3 1046.6C1376.7 1046.6 1377.0 1046.8 1377.4 1047.1C1377.9 1047.9 1378.5 1051.1 1379.0 1053.7C1379.5 1056.1 1379.9 1060.7 1380.4 1062.4C1380.8 1063.7 1381.3 1064.9 1381.7 1065.1C1382.3 1064.8 1382.8 1063.1 1383.4 1061.3C1383.8 1059.8 1384.1 1054.2 1384.5 1053.7C1385.0 1053.8 1385.4 1055.8 1385.9 1055.9C1386.3 1055.2 1386.8 1045.7 1387.2 1045.0C1387.7 1045.9 1388.3 1054.1 1388.8 1058.0C1389.4 1062.0 1389.9 1063.5 1390.5 1068.9C1390.8 1073.1 1391.2 1088.1 1391.5 1090.7C1392.1 1092.9 1392.6 1094.2 1393.2 1094.5C1393.7 1094.0 1394.3 1087.9 1394.8 1087.4C1395.3 1087.9 1395.9 1094.6 1396.4 1095.1C1396.9 1094.6 1397.4 1089.0 1397.9 1087.4C1398.4 1086.2 1398.9 1086.2 1399.4 1084.7C1399.9 1082.1 1400.3 1068.9 1400.8 1063.5C1401.4 1057.1 1402.1 1049.2 1402.7 1048.2C1403.2 1048.9 1403.6 1054.3 1404.1 1058.0C1404.6 1062.6 1405.2 1068.3 1405.7 1074.4C1406.2 1080.8 1406.8 1090.1 1407.3 1096.2C1407.8 1101.5 1408.3 1108.9 1408.8 1109.8C1409.2 1108.5 1409.7 1095.8 1410.1 1090.7C1410.6 1085.0 1411.2 1079.9 1411.7 1076.5C1412.2 1074.0 1412.6 1071.0 1413.1 1070.6C1413.6 1070.6 1414.1 1070.8 1414.6 1071.1C1415.0 1072.1 1415.3 1079.1 1415.7 1083.1" fill="none" stroke="#000" stroke-width="3.8" stroke-linejoin="round" stroke-linecap="round"/>
<path d="M237.0 1094.6C237.3 1104.9 237.6 1123.4 237.9 1125.5C238.5 1125.5 239.1 1125.5 239.7 1125.5C239.9 1124.4 240.2 1110.4 240.4 1109.3C240.9 1109.3 241.4 1109.3 241.9 1109.3C242.4 1110.0 242.9 1115.2 243.4 1119.6C243.9 1124.5 244.3 1136.2 244.8 1140.2C245.6 1145.7 246.5 1150.5 247.3 1151.2C247.9 1151.1 248.6 1150.6 249.2 1149.7C249.7 1148.1 250.2 1142.2 250.7 1134.3C251.0 1126.9 251.4 1096.2 251.7 1091.7C252.4 1088.0 253.0 1086.2 253.7 1085.8C254.2 1087.6 254.6 1104.0 255.1 1112.2C255.6 1120.6 256.1 1130.7 256.6 1135.7C257.1 1139.7 257.6 1144.0 258.1 1144.6C259.1 1144.5 260.0 1144.0 261.0 1143.1C261.5 1141.8 262.0 1134.5 262.5 1129.9C262.8 1126.8 263.2 1121.5 263.5 1120.3C264.3 1119.0 265.0 1118.2 265.8 1118.1C266.3 1118.5 266.8 1121.2 267.3 1124.0C267.8 1127.7 268.3 1140.1 268.8 1143.1C269.4 1145.4 269.9 1146.0 270.5 1147.5C271.0 1148.9 271.5 1151.6 272.0 1151.9C272.7 1151.7 273.5 1148.4 274.2 1148.2C274.7 1148.3 275.2 1149.3 275.7 1150.4C276.3 1152.4 277.0 1159.8 277.6 1162.2C278.3 1164.3 279.0 1166.3 279.7 1166.6C280.3 1166.1 281.0 1163.2 281.6 1159.3C281.9 1156.3 282.3 1147.3 282.6 1141.6C283.0 1135.0 283.4 1128.4 283.8 1122.5C284.4 1114.5 284.9 1107.8 285.5 1100.5C285.9 1095.4 286.3 1086.1 286.7 1085.1C287.4 1085.2 288.2 1087.2 288.9 1087.3C289.4 1085.3 289.9 1065.1 290.4 1057.9C290.9 1051.7 291.4 1050.5 291.9 1043.2C292.2 1036.7 292.6 1011.0 292.9 1008.7C293.5 1010.1 294.2 1028.6 294.8 1030.0C295.3 1028.4 295.8 1007.3 296.3 1005.7C296.9 1008.3 297.6 1042.0 298.2 1044.6C298.7 1042.3 299.1 1018.1 299.6 1009.4C300.1 1001.3 300.6 991.6 301.1 990.3C301.6 992.3 302.1 1009.1 302.6 1019.7C303.1 1030.0 303.5 1042.7 304.0 1053.5C304.5 1064.8 305.0 1074.8 305.5 1085.8C306.0 1096.9 306.5 1109.0 307.0 1119.6C307.5 1129.9 308.0 1140.9 308.5 1149.0C309.0 1155.9 309.4 1165.4 309.9 1166.6C310.6 1166.5 311.3 1165.2 312.0 1165.1C312.9 1165.5 313.7 1170.7 314.6 1171.7C315.6 1172.5 316.6 1172.6 317.6 1173.2C318.3 1173.7 319.1 1175.3 319.8 1175.4C320.5 1175.1 321.3 1172.1 322.0 1170.3C322.6 1168.9 323.1 1166.9 323.7 1165.9C324.3 1164.9 325.0 1163.8 325.6 1163.7C326.4 1164.1 327.1 1167.7 327.9 1169.5C328.5 1170.8 329.0 1173.0 329.6 1173.2C330.2 1172.8 330.9 1168.6 331.5 1167.3C332.5 1165.6 333.5 1163.9 334.5 1163.7C335.3 1163.9 336.2 1166.4 337.0 1166.6C337.9 1166.4 338.7 1163.9 339.6 1163.7C340.5 1164.1 341.3 1168.7 342.2 1169.5C343.0 1169.9 343.9 1170.2 344.7 1170.3C345.2 1169.4 345.7 1161.8 346.2 1156.3C346.7 1150.3 347.2 1143.8 347.7 1134.3C348.0 1127.0 348.4 1109.0 348.7 1104.9C349.3 1100.3 350.0 1097.3 350.6 1096.8C351.0 1098.8 351.3 1118.4 351.7 1126.9C352.1 1134.8 352.4 1144.2 352.8 1147.5C353.7 1152.9 354.6 1156.4 355.5 1157.0C356.3 1156.6 357.2 1154.1 358.0 1151.2C358.5 1149.1 358.9 1142.2 359.4 1140.9C359.9 1140.1 360.4 1139.5 360.9 1139.4C361.4 1140.5 361.9 1152.9 362.4 1156.3C363.1 1160.2 363.9 1163.3 364.6 1164.4C365.7 1165.2 366.7 1165.8 367.8 1165.9C368.4 1165.5 369.1 1161.0 369.7 1159.3C370.3 1157.8 371.0 1155.8 371.6 1155.6C372.4 1155.9 373.3 1159.7 374.1 1160.0C374.4 1159.9 374.7 1159.1 375.0 1159.0C375.5 1159.3 376.1 1162.4 376.6 1162.8C377.5 1163.1 378.5 1163.0 379.4 1163.3C379.9 1163.8 380.5 1166.7 381.0 1168.2C381.5 1169.4 381.9 1171.3 382.4 1171.5C383.0 1171.5 383.7 1171.3 384.3 1170.9C384.6 1170.3 385.0 1166.0 385.3 1165.0C385.9 1163.8 386.4 1163.6 387.0 1162.8C387.4 1162.1 387.9 1160.7 388.3 1160.6C388.8 1161.1 389.2 1166.3 389.7 1168.2C390.2 1169.8 390.6 1171.7 391.1 1172.0C391.6 1171.7 392.1 1169.2 392.6 1167.1C393.1 1164.6 393.6 1160.1 394.1 1156.2C394.6 1152.5 395.0 1147.2 395.5 1144.3C396.1 1141.0 396.7 1139.1 397.3 1136.6C397.9 1134.3 398.4 1131.7 399.0 1130.1C399.4 1129.0 399.9 1127.6 400.3 1127.4C400.6 1128.5 400.8 1142.1 401.1 1143.2C401.5 1142.4 402.0 1132.0 402.4 1131.2C402.9 1131.4 403.4 1132.9 403.9 1134.5C404.4 1136.4 404.8 1140.5 405.3 1144.3C405.7 1148.2 406.2 1153.7 406.6 1158.4C406.9 1161.7 407.2 1166.6 407.5 1168.2C408.0 1170.0 408.5 1170.5 409.0 1171.5C409.6 1172.5 410.1 1174.0 410.7 1174.2C411.5 1174.2 412.3 1174.2 413.1 1174.2C413.8 1174.2 414.6 1174.2 415.3 1174.2C415.8 1174.4 416.4 1176.8 416.9 1177.5C417.6 1178.3 418.4 1178.7 419.1 1179.1C420.0 1179.6 420.9 1180.1 421.8 1180.2C422.7 1180.2 423.7 1180.2 424.6 1180.2C425.3 1180.3 426.0 1182.3 426.7 1182.4C427.4 1182.3 428.2 1180.5 428.9 1180.2C429.8 1179.9 430.7 1179.9 431.6 1179.7C432.5 1179.4 433.5 1178.3 434.4 1178.0C435.3 1177.8 436.2 1177.7 437.1 1177.5C438.2 1177.3 439.3 1177.2 440.4 1176.9C441.3 1176.7 442.2 1176.3 443.1 1175.9C444.0 1175.4 444.9 1174.2 445.8 1173.7C446.7 1173.2 447.6 1172.9 448.5 1172.6C449.4 1172.4 450.3 1172.3 451.2 1172.0C451.9 1171.7 452.7 1171.0 453.4 1170.9C454.1 1171.0 454.9 1171.9 455.6 1172.0C456.5 1172.0 457.4 1171.5 458.3 1171.5C458.9 1171.7 459.4 1173.7 460.0 1174.8C460.5 1175.9 461.1 1177.8 461.6 1178.0C462.3 1178.0 463.1 1177.7 463.8 1177.5C464.3 1177.3 464.9 1177.1 465.4 1176.9C466.1 1176.6 466.9 1176.0 467.6 1175.9C468.3 1176.0 469.1 1176.5 469.8 1176.9C470.5 1177.3 471.2 1178.0 471.9 1178.6C472.6 1179.1 473.2 1180.1 473.9 1180.2C474.5 1180.2 475.2 1180.0 475.8 1179.7C476.3 1179.3 476.9 1177.3 477.4 1176.9C477.9 1176.6 478.5 1176.4 479.0 1176.4C479.6 1176.6 480.1 1179.0 480.7 1179.7C481.4 1180.4 482.1 1181.2 482.8 1181.3C483.4 1181.1 483.9 1178.4 484.5 1178.0C485.2 1177.7 485.9 1177.5 486.6 1177.5C487.5 1177.5 488.5 1177.8 489.4 1178.0C490.3 1178.2 491.2 1178.6 492.1 1178.6C492.8 1178.6 493.6 1178.0 494.3 1178.0C495.0 1178.1 495.7 1179.2 496.4 1179.7C497.1 1180.1 497.9 1180.3 498.6 1180.8C499.2 1181.3 499.7 1182.8 500.3 1182.9C500.7 1182.5 501.2 1177.9 501.6 1176.9C502.2 1176.1 502.7 1175.4 503.3 1175.3C503.9 1175.4 504.6 1175.8 505.2 1176.4C505.7 1177.3 506.1 1182.1 506.6 1183.5C507.2 1184.8 507.8 1186.0 508.4 1186.2C509.1 1186.2 509.9 1186.0 510.6 1185.7C511.3 1185.3 512.1 1184.0 512.8 1183.5C513.5 1183.0 514.3 1182.9 515.0 1182.4C515.5 1182.0 516.1 1180.9 516.6 1180.8C517.3 1180.8 518.1 1181.3 518.8 1181.3C519.5 1181.2 520.3 1180.0 521.0 1179.1C521.5 1178.3 522.1 1177.6 522.6 1175.9C523.0 1174.1 523.3 1166.3 523.7 1164.4C524.6 1161.3 525.4 1160.7 526.3 1158.8C526.8 1157.7 527.2 1155.7 527.7 1155.5C528.3 1156.2 528.8 1164.5 529.4 1165.4C529.9 1165.7 530.5 1165.9 531.0 1165.9C531.5 1165.9 532.1 1165.7 532.6 1165.4C533.2 1164.7 533.7 1161.3 534.3 1158.8C534.8 1156.3 535.4 1152.3 535.9 1150.1C536.3 1148.8 536.6 1147.0 537.0 1146.8C537.5 1147.2 538.1 1150.6 538.6 1152.3C539.1 1153.9 539.7 1154.9 540.2 1156.6C540.8 1158.6 541.3 1162.4 541.9 1164.3C542.4 1165.9 543.0 1166.8 543.5 1168.1C544.1 1169.5 544.6 1172.1 545.2 1172.4C545.9 1172.3 546.6 1170.4 547.3 1170.3C548.0 1170.5 548.8 1173.3 549.5 1173.5C550.4 1173.5 551.3 1173.5 552.2 1173.5C552.9 1173.6 553.7 1174.9 554.4 1175.7C555.3 1176.7 556.2 1177.8 557.1 1179.0C557.8 1180.0 558.6 1182.0 559.3 1182.2C560.2 1182.1 561.1 1180.2 562.0 1180.1C562.7 1180.2 563.5 1181.6 564.2 1181.7C565.1 1181.6 566.0 1180.7 566.9 1180.1C567.6 1179.5 568.4 1178.0 569.1 1177.9C570.0 1178.0 570.9 1179.1 571.8 1179.5C572.7 1179.9 573.7 1180.5 574.6 1180.6C575.5 1180.5 576.4 1179.1 577.3 1179.0C578.2 1179.0 579.1 1179.0 580.0 1179.0C580.7 1178.9 581.5 1177.8 582.2 1177.3C582.9 1176.9 583.7 1176.3 584.4 1176.2C585.1 1176.4 585.8 1177.9 586.5 1179.0C587.1 1179.9 587.6 1181.6 588.2 1182.2C588.8 1182.7 589.5 1183.2 590.1 1183.3C590.9 1183.2 591.7 1182.7 592.5 1182.2C593.2 1181.6 594.0 1180.2 594.7 1179.5C595.6 1178.8 596.5 1178.0 597.4 1177.9C598.3 1178.0 599.3 1178.9 600.2 1179.5C601.0 1180.0 601.8 1181.0 602.6 1181.1C603.4 1181.0 604.3 1180.8 605.1 1180.1C605.4 1179.3 605.8 1172.9 606.1 1171.9C607.0 1170.5 607.8 1169.8 608.7 1169.7C609.3 1170.0 609.9 1173.3 610.5 1174.1C611.0 1174.6 611.6 1174.6 612.1 1175.2C612.7 1176.1 613.2 1179.1 613.8 1180.6C614.3 1181.9 614.9 1183.3 615.4 1183.9C616.1 1184.5 616.9 1184.9 617.6 1185.0C618.5 1184.9 619.4 1184.0 620.3 1183.3C621.2 1182.4 622.1 1180.5 623.0 1179.5C623.8 1178.6 624.6 1177.4 625.4 1177.3C626.2 1177.4 627.1 1179.1 627.9 1179.5C628.6 1179.8 629.4 1180.1 630.1 1180.1C631.0 1180.1 631.9 1180.1 632.8 1180.1C633.2 1179.6 633.5 1174.3 633.9 1173.0C634.5 1171.6 635.0 1170.7 635.6 1170.3C636.2 1170.0 636.8 1169.7 637.4 1169.7C638.1 1169.9 638.7 1171.3 639.4 1173.0C639.8 1174.3 640.1 1178.6 640.5 1180.6C640.9 1182.8 641.4 1185.3 641.8 1186.0C642.4 1186.6 643.1 1187.0 643.7 1187.1C644.6 1187.0 645.5 1186.3 646.4 1186.0C647.3 1185.8 648.3 1185.7 649.2 1185.5C649.9 1185.4 650.6 1185.2 651.3 1185.0C652.0 1184.6 652.8 1183.3 653.5 1182.8C654.2 1182.3 655.0 1181.8 655.7 1181.7C656.4 1181.8 657.2 1183.3 657.9 1183.9C658.8 1184.5 659.7 1185.4 660.6 1185.5C661.5 1185.4 662.4 1183.9 663.3 1183.3C664.2 1182.7 665.2 1182.1 666.1 1181.7C666.8 1181.5 667.5 1181.1 668.2 1181.1C669.1 1181.2 670.1 1182.2 671.0 1182.8C671.7 1183.3 672.4 1183.7 673.1 1184.4C673.7 1185.2 674.4 1187.5 675.0 1187.7C676.1 1187.6 677.3 1186.2 678.4 1185.6C679.5 1185.1 680.7 1184.3 681.8 1184.2C683.2 1184.3 684.5 1185.5 685.9 1185.6C687.3 1185.6 688.6 1185.6 690.0 1185.6C691.4 1185.6 692.7 1185.6 694.1 1185.6C695.2 1185.5 696.4 1184.3 697.5 1184.2C698.6 1184.2 699.8 1184.2 700.9 1184.2C701.8 1184.4 702.7 1186.2 703.6 1187.0C704.6 1187.8 705.6 1188.9 706.6 1189.0C707.6 1188.9 708.7 1187.6 709.7 1187.0C710.8 1186.4 712.0 1186.1 713.1 1185.6C714.2 1185.1 715.4 1184.3 716.5 1184.2C717.6 1184.2 718.8 1184.2 719.9 1184.2C721.0 1184.3 722.2 1186.2 723.3 1186.3C724.4 1186.2 725.6 1184.3 726.7 1184.2C727.8 1184.3 729.0 1186.2 730.1 1186.3C731.2 1186.2 732.4 1184.8 733.5 1184.2C734.6 1183.7 735.8 1183.0 736.9 1182.9C738.1 1183.0 739.2 1183.6 740.4 1184.2C741.3 1184.7 742.2 1185.7 743.1 1186.3C743.9 1186.8 744.7 1187.6 745.5 1187.7C746.5 1187.6 747.5 1186.0 748.5 1185.6C749.6 1185.3 750.8 1184.9 751.9 1184.9C753.0 1184.9 754.2 1184.9 755.3 1184.9C756.2 1185.0 757.1 1186.9 758.0 1187.0C758.9 1186.8 759.9 1184.4 760.8 1184.2C761.7 1184.2 762.6 1184.9 763.5 1184.9C764.3 1184.9 765.1 1184.5 765.9 1184.2C766.5 1184.0 767.0 1184.0 767.6 1183.6C767.8 1182.8 768.1 1174.6 768.3 1174.0C768.9 1174.0 769.4 1174.0 770.0 1174.0C770.3 1174.6 770.7 1182.0 771.0 1183.6C771.4 1185.0 771.9 1186.1 772.3 1186.3C773.2 1186.2 774.2 1185.4 775.1 1184.9C776.0 1184.5 776.9 1183.7 777.8 1183.6C778.9 1183.7 780.1 1185.2 781.2 1185.6C782.3 1185.9 783.5 1186.0 784.6 1186.3C785.5 1186.5 786.4 1186.7 787.3 1187.0C788.2 1187.4 789.1 1188.6 790.0 1189.0C790.9 1189.3 791.9 1189.7 792.8 1189.7C793.7 1189.5 794.6 1187.9 795.5 1187.0C796.2 1186.3 796.8 1185.8 797.5 1184.9C798.2 1183.9 798.9 1181.7 799.6 1180.8C800.5 1179.9 801.4 1178.9 802.3 1178.8C803.0 1178.9 803.6 1179.9 804.3 1180.8C804.8 1181.5 805.2 1183.4 805.7 1183.6C806.4 1183.4 807.0 1181.4 807.7 1180.8C808.4 1180.2 809.1 1179.6 809.8 1179.5C810.7 1179.5 811.6 1179.5 812.5 1179.5C813.2 1179.6 813.9 1180.2 814.6 1180.8C815.3 1181.4 815.9 1182.9 816.6 1183.6C817.3 1184.2 817.9 1184.8 818.6 1184.9C819.5 1184.9 820.5 1184.2 821.4 1184.2C822.3 1184.2 823.2 1184.2 824.1 1184.2C824.8 1184.5 825.4 1188.0 826.1 1188.3C827.0 1188.2 827.9 1186.9 828.8 1186.3C829.7 1185.8 830.7 1185.0 831.6 1184.9C832.5 1184.9 833.4 1185.2 834.3 1185.6C835.0 1186.0 835.6 1188.1 836.3 1188.3C837.0 1188.2 837.7 1186.4 838.4 1186.3C839.5 1186.4 840.7 1187.6 841.8 1187.7C842.9 1187.7 844.1 1187.4 845.2 1187.0C846.1 1186.6 847.0 1184.6 847.9 1184.2C849.0 1183.9 850.2 1183.6 851.3 1183.6C852.2 1183.6 853.1 1184.2 854.0 1184.2C854.7 1184.1 855.4 1183.0 856.1 1182.9C856.8 1183.1 857.4 1184.9 858.1 1185.6C858.8 1186.2 859.5 1186.9 860.2 1187.0C861.1 1186.8 862.0 1184.8 862.9 1183.6C863.6 1182.7 864.2 1181.0 864.9 1180.8C865.6 1181.0 866.3 1182.9 867.0 1183.6C867.7 1184.2 868.3 1184.8 869.0 1184.9C869.9 1184.9 870.8 1184.9 871.7 1184.9C872.8 1184.9 873.9 1185.6 875.0 1185.6C875.9 1185.4 876.8 1183.0 877.7 1182.2C878.8 1181.3 880.0 1180.3 881.1 1180.2C882.2 1180.2 883.4 1180.2 884.5 1180.2C885.4 1180.3 886.4 1182.1 887.3 1182.2C888.4 1182.2 889.6 1181.8 890.7 1181.5C891.6 1181.1 892.5 1179.6 893.4 1179.5C894.3 1179.7 895.2 1181.5 896.1 1182.2C897.2 1183.0 898.4 1183.4 899.5 1184.2C900.6 1185.0 901.8 1186.8 902.9 1187.0C903.8 1187.0 904.7 1187.0 905.6 1187.0C906.7 1186.9 907.9 1185.5 909.0 1184.9C910.1 1184.4 911.3 1184.0 912.4 1183.6C913.1 1183.4 913.8 1182.9 914.5 1182.9C915.4 1183.1 916.3 1185.4 917.2 1185.6C918.1 1185.4 919.0 1183.7 919.9 1182.9C920.8 1182.1 921.8 1181.2 922.7 1180.8C923.6 1180.5 924.5 1180.2 925.4 1180.2C926.1 1180.4 926.7 1182.4 927.4 1183.6C928.1 1184.9 928.8 1187.4 929.5 1187.7C930.6 1187.7 931.8 1187.7 932.9 1187.7C934.0 1187.6 935.2 1186.8 936.3 1186.3C937.4 1185.8 938.6 1185.4 939.7 1184.9C940.8 1184.5 942.0 1183.9 943.1 1183.6C944.5 1183.3 945.8 1182.9 947.2 1182.9C948.5 1182.9 949.9 1183.6 951.2 1183.6C952.6 1183.6 953.9 1183.6 955.3 1183.6C956.4 1183.6 957.6 1184.2 958.7 1184.2C959.8 1184.2 961.0 1183.6 962.1 1183.6C963.0 1183.8 964.0 1186.1 964.9 1187.0C966.0 1188.1 967.2 1189.2 968.3 1189.7C969.4 1190.0 970.6 1190.4 971.7 1190.4C972.8 1190.3 974.0 1188.9 975.1 1188.3C976.2 1187.8 977.4 1187.5 978.5 1187.0C979.4 1186.6 980.3 1185.7 981.2 1185.6C982.6 1185.6 983.9 1185.6 985.3 1185.6C986.7 1185.6 988.0 1186.3 989.4 1186.3C990.7 1186.3 992.1 1185.8 993.4 1185.6C994.8 1185.4 996.1 1184.9 997.5 1184.9C998.9 1185.0 1000.2 1186.0 1001.6 1186.3C1003.0 1186.6 1004.3 1186.8 1005.7 1187.0C1007.1 1187.2 1008.4 1187.4 1009.8 1187.7C1010.7 1188.0 1011.6 1188.9 1012.5 1189.0C1013.4 1188.8 1014.3 1186.5 1015.2 1186.3C1016.3 1186.3 1017.5 1186.7 1018.6 1187.0C1019.5 1187.3 1020.5 1188.2 1021.4 1188.3C1022.5 1188.2 1023.7 1187.1 1024.8 1187.0C1025.9 1187.0 1027.1 1187.7 1028.2 1187.7C1029.3 1187.7 1030.5 1187.2 1031.6 1187.0C1032.7 1186.8 1033.9 1186.6 1035.0 1186.3C1035.9 1186.1 1036.8 1186.0 1037.7 1185.6C1038.4 1184.9 1039.0 1180.5 1039.7 1179.5C1040.4 1178.8 1041.1 1178.2 1041.8 1178.1C1042.2 1178.3 1042.7 1180.6 1043.1 1180.8C1043.6 1180.6 1044.0 1178.3 1044.5 1178.1C1045.0 1178.2 1045.4 1178.8 1045.9 1179.5C1046.3 1180.5 1046.8 1185.0 1047.2 1185.6C1047.9 1186.0 1048.6 1186.3 1049.3 1186.3C1050.2 1186.1 1051.1 1184.5 1052.0 1183.6C1052.9 1182.7 1053.8 1181.0 1054.7 1180.8C1055.4 1180.9 1056.1 1181.5 1056.8 1182.2C1057.5 1183.0 1058.1 1186.0 1058.8 1186.3C1059.9 1186.2 1061.1 1185.0 1062.2 1184.9C1063.3 1185.0 1064.5 1185.8 1065.6 1186.3C1066.5 1186.7 1067.4 1187.6 1068.3 1187.7C1069.4 1187.7 1070.6 1187.0 1071.7 1187.0C1072.8 1187.0 1073.9 1187.7 1075.0 1187.7C1076.4 1187.7 1077.7 1187.4 1079.1 1187.0C1079.8 1186.6 1080.4 1184.7 1081.1 1184.2C1081.6 1183.9 1082.0 1183.6 1082.5 1183.6C1083.2 1183.8 1083.8 1186.5 1084.5 1187.0C1085.4 1187.4 1086.4 1187.7 1087.3 1187.7C1088.6 1187.6 1090.0 1186.0 1091.3 1185.6C1092.7 1185.3 1094.0 1184.9 1095.4 1184.9C1096.8 1184.9 1098.1 1184.9 1099.5 1184.9C1100.9 1185.0 1102.2 1186.5 1103.6 1187.0C1104.7 1187.3 1105.9 1187.7 1107.0 1187.7C1108.1 1187.6 1109.3 1186.4 1110.4 1186.3C1111.8 1186.3 1113.1 1186.3 1114.5 1186.3C1115.9 1186.3 1117.2 1185.6 1118.6 1185.6C1119.5 1185.6 1120.4 1186.3 1121.3 1186.3C1122.4 1186.2 1123.6 1184.3 1124.7 1184.2C1126.1 1184.2 1127.4 1184.2 1128.8 1184.2C1129.9 1184.3 1131.1 1185.1 1132.2 1185.6C1133.3 1186.1 1134.5 1186.9 1135.6 1187.0C1136.7 1187.0 1137.9 1186.6 1139.0 1186.3C1139.9 1185.9 1140.8 1184.3 1141.7 1184.2C1143.1 1184.2 1144.4 1184.2 1145.8 1184.2C1146.9 1184.2 1148.1 1183.6 1149.2 1183.6C1149.7 1183.7 1150.1 1185.5 1150.6 1185.6C1151.3 1185.4 1151.9 1183.1 1152.6 1182.9C1153.5 1183.1 1154.4 1184.8 1155.3 1185.6C1156.2 1186.4 1157.1 1187.6 1158.0 1187.7C1158.9 1187.5 1159.9 1185.5 1160.8 1184.9C1161.9 1184.3 1163.1 1183.7 1164.2 1183.6C1165.3 1183.7 1166.5 1185.5 1167.6 1185.6C1169.0 1185.5 1170.3 1183.7 1171.7 1183.6C1173.0 1183.7 1174.4 1184.8 1175.7 1184.9C1177.1 1184.8 1178.4 1183.7 1179.8 1183.6C1181.2 1183.6 1182.5 1184.2 1183.9 1184.2C1185.3 1184.2 1186.6 1184.2 1188.0 1184.2C1189.4 1184.2 1190.7 1183.6 1192.1 1183.6C1193.0 1183.6 1193.9 1183.6 1194.8 1183.6C1195.7 1183.4 1196.6 1180.9 1197.5 1180.2C1198.4 1179.6 1199.4 1178.9 1200.3 1178.8C1201.2 1178.9 1202.1 1180.1 1203.0 1180.2C1204.4 1180.2 1205.7 1179.5 1207.1 1179.5C1208.4 1179.5 1209.8 1179.5 1211.1 1179.5C1211.7 1179.7 1212.2 1182.0 1212.8 1182.2C1213.4 1182.0 1214.0 1179.8 1214.6 1178.8C1215.0 1178.1 1215.5 1176.9 1215.9 1176.8C1216.6 1177.0 1217.3 1180.0 1218.0 1180.2C1218.7 1180.1 1219.3 1178.2 1220.0 1178.1C1220.9 1178.1 1221.8 1178.5 1222.7 1178.8C1223.8 1179.2 1225.0 1179.7 1226.1 1180.2C1227.0 1180.6 1227.9 1181.4 1228.8 1181.5C1229.7 1181.5 1230.7 1181.2 1231.6 1180.8C1232.5 1180.3 1233.4 1177.6 1234.3 1177.4C1235.4 1177.4 1236.6 1177.8 1237.7 1178.1C1238.6 1178.4 1239.5 1179.4 1240.4 1179.5C1241.8 1179.5 1243.1 1179.5 1244.5 1179.5C1245.6 1179.7 1246.8 1182.7 1247.9 1182.9C1248.8 1182.8 1249.7 1181.4 1250.6 1180.8C1251.5 1180.3 1252.5 1180.0 1253.4 1179.5C1254.3 1178.9 1255.2 1177.5 1256.1 1177.4C1257.0 1177.5 1257.9 1178.3 1258.8 1178.8C1259.7 1179.3 1260.6 1180.1 1261.5 1180.2C1262.6 1180.2 1263.8 1179.5 1264.9 1179.5C1266.0 1179.7 1267.2 1182.0 1268.3 1182.2C1269.4 1182.2 1270.6 1182.2 1271.7 1182.2C1272.8 1182.0 1273.9 1180.2 1275.0 1179.0C1275.7 1178.2 1276.5 1176.4 1277.2 1176.2C1277.7 1176.4 1278.3 1179.3 1278.8 1179.5C1279.7 1179.5 1280.6 1179.5 1281.5 1179.5C1282.4 1179.5 1283.4 1179.3 1284.3 1179.0C1284.6 1178.6 1285.0 1175.5 1285.3 1175.2C1286.0 1175.3 1286.8 1177.2 1287.5 1177.3C1288.1 1177.0 1288.6 1173.8 1289.2 1173.5C1289.9 1173.6 1290.6 1174.6 1291.3 1175.2C1292.0 1175.9 1292.8 1176.4 1293.5 1177.3C1294.2 1178.4 1295.0 1181.9 1295.7 1182.2C1296.4 1182.1 1297.2 1180.6 1297.9 1180.1C1298.8 1179.6 1299.7 1179.7 1300.6 1179.0C1301.1 1178.1 1301.7 1171.9 1302.2 1170.8C1302.9 1169.9 1303.7 1169.9 1304.4 1169.2C1305.1 1168.2 1305.9 1164.6 1306.6 1164.3C1307.1 1164.7 1307.7 1168.1 1308.2 1169.7C1308.9 1171.8 1309.7 1173.6 1310.4 1175.2C1311.1 1176.7 1311.9 1178.7 1312.6 1179.0C1313.1 1178.6 1313.7 1173.9 1314.2 1173.0C1314.7 1172.4 1315.3 1172.0 1315.8 1171.9C1316.5 1172.0 1317.3 1172.9 1318.0 1173.5C1318.7 1174.1 1319.5 1174.7 1320.2 1175.7C1320.7 1176.5 1321.3 1178.8 1321.8 1179.0C1322.4 1178.7 1322.9 1175.5 1323.5 1175.2C1324.0 1175.3 1324.6 1176.7 1325.1 1176.8C1325.6 1176.8 1326.2 1176.5 1326.7 1176.2C1327.4 1175.8 1328.2 1174.9 1328.9 1174.1C1329.4 1173.5 1330.0 1172.8 1330.5 1171.9C1331.1 1170.7 1331.6 1167.3 1332.2 1167.0C1332.9 1167.2 1333.7 1169.2 1334.4 1169.7C1335.3 1170.2 1336.2 1170.7 1337.1 1170.8C1338.0 1170.8 1338.9 1170.3 1339.8 1170.3C1340.7 1170.3 1341.6 1170.3 1342.5 1170.3C1343.2 1170.5 1344.0 1171.9 1344.7 1173.0C1345.2 1173.9 1345.8 1176.0 1346.3 1176.2C1347.0 1175.9 1347.8 1173.5 1348.5 1171.9C1349.1 1170.6 1349.6 1167.8 1350.2 1167.5C1350.9 1167.6 1351.6 1168.3 1352.3 1169.2C1352.9 1170.3 1353.4 1175.3 1354.0 1176.8C1354.5 1177.8 1355.1 1178.9 1355.6 1179.0C1356.3 1178.7 1357.1 1176.7 1357.8 1175.2C1358.5 1173.6 1359.3 1171.2 1360.0 1169.7C1360.7 1168.4 1361.4 1168.1 1362.1 1166.4C1362.7 1164.4 1363.2 1159.0 1363.8 1154.5C1364.2 1151.4 1364.5 1144.8 1364.9 1144.1C1365.4 1144.4 1366.0 1147.1 1366.5 1149.0C1367.0 1151.1 1367.6 1153.4 1368.1 1156.6C1368.5 1159.1 1368.8 1164.1 1369.2 1166.4C1369.8 1169.4 1370.3 1171.2 1370.9 1173.0C1371.3 1174.2 1371.8 1176.0 1372.2 1176.2C1372.7 1175.6 1373.1 1169.7 1373.6 1167.5C1374.1 1165.3 1374.7 1163.0 1375.2 1162.1C1375.9 1161.3 1376.7 1160.6 1377.4 1160.5C1378.1 1160.6 1378.9 1162.2 1379.6 1162.6C1380.3 1162.9 1381.0 1163.2 1381.7 1163.2C1382.4 1163.0 1383.2 1161.0 1383.9 1160.5C1384.8 1160.0 1385.7 1160.0 1386.6 1159.4C1387.2 1158.7 1387.7 1156.0 1388.3 1154.5C1388.7 1153.3 1389.2 1151.4 1389.6 1151.2C1390.1 1151.3 1390.5 1151.8 1391.0 1152.3C1391.7 1153.2 1392.5 1156.3 1393.2 1156.6C1393.6 1155.7 1393.9 1146.9 1394.3 1143.6C1394.7 1140.7 1395.0 1137.0 1395.4 1136.5C1395.9 1136.5 1396.5 1137.0 1397.0 1137.0C1397.4 1136.5 1397.9 1129.9 1398.3 1129.4C1398.8 1129.8 1399.2 1133.5 1399.7 1135.9C1400.1 1137.9 1400.4 1142.1 1400.8 1142.5C1401.2 1142.5 1401.5 1141.9 1401.9 1141.9C1402.4 1142.4 1402.8 1146.9 1403.3 1149.0C1403.7 1150.8 1404.2 1153.6 1404.6 1153.9C1405.3 1153.6 1406.1 1151.6 1406.8 1150.1C1407.3 1148.9 1407.9 1146.2 1408.4 1145.7C1409.1 1145.4 1409.9 1145.4 1410.6 1145.2C1411.1 1145.1 1411.7 1144.7 1412.2 1144.7C1412.8 1145.0 1413.3 1147.7 1413.9 1149.0C1414.4 1150.2 1415.0 1151.2 1415.5 1152.3" fill="none" stroke="#000" stroke-width="3.8" stroke-linejoin="round" stroke-linecap="round"/>
<g font-family="DejaVu Serif, Liberation Serif, serif" fill="#000" stroke="#000" stroke-linejoin="round" xml:space="preserve">
<text stroke-width="2.6"><tspan x="410.9" y="125.4" font-size="52">P</tspan><tspan x="447.9" y="125.4" font-size="52">a</tspan><tspan x="484.1" y="119.6" font-size="40" textLength="38.2" lengthAdjust="spacingAndGlyphs">-</tspan><tspan x="526.7" y="125.4" font-size="52" font-style="italic" textLength="33.9" lengthAdjust="spacingAndGlyphs">α</tspan></text>
<text stroke-width="2.6"><tspan x="702.3" y="1473.5" font-size="52" font-family="DejaVu Sans, Liberation Sans, sans-serif" textLength="32.9" lengthAdjust="spacingAndGlyphs">λ</tspan> <tspan x="766.9" y="1476.0" font-size="66.5" font-family="DejaVu Sans, Liberation Sans, sans-serif" textLength="25.2" lengthAdjust="spacingAndGlyphs">(</tspan><tspan x="789.6" y="1473.5" font-size="52" font-style="italic" textLength="46.7" lengthAdjust="spacingAndGlyphs">μ</tspan><tspan x="835.8" y="1473.5" font-size="52" textLength="55.1" lengthAdjust="spacingAndGlyphs">m</tspan><tspan x="893.9" y="1476.0" font-size="66.5" font-family="DejaVu Sans, Liberation Sans, sans-serif" textLength="24.7" lengthAdjust="spacingAndGlyphs">)</tspan></text>
<text transform="translate(65.7 0) rotate(-90)" stroke-width="2.6"><tspan x="-1005.2" y="-1.3" font-size="52" textLength="34.9" lengthAdjust="spacingAndGlyphs">F</tspan><tspan x="-969.6" y="15.1" font-size="33" font-family="DejaVu Sans, Liberation Sans, sans-serif">λ</tspan> <tspan x="-919.3" y="1.2" font-size="66.5" textLength="24.6" lengthAdjust="spacingAndGlyphs">(</tspan><tspan x="-887.5" y="-0.8" font-size="52" font-family="DejaVu Serif Condensed, DejaVu Serif, serif" textLength="24.8" lengthAdjust="spacingAndGlyphs">1</tspan><tspan x="-858.2" y="-0.8" font-size="52" textLength="36.7" lengthAdjust="spacingAndGlyphs">0</tspan><tspan x="-818.9" y="-19.1" font-size="40" textLength="23.1" lengthAdjust="spacingAndGlyphs">-</tspan><tspan x="-788.0" y="-18.2" font-size="33" font-weight="bold" textLength="10.6" lengthAdjust="spacingAndGlyphs">1</tspan><tspan x="-772.1" y="-18.2" font-size="33" textLength="23.1" lengthAdjust="spacingAndGlyphs">5</tspan> <tspan x="-717.9" y="-1.3" font-size="52" font-family="DejaVu Serif Condensed, DejaVu Serif, serif" textLength="38.5" lengthAdjust="spacingAndGlyphs">W</tspan> <tspan x="-645.5" y="-1.3" font-size="52" textLength="54.4" lengthAdjust="spacingAndGlyphs">m</tspan><tspan x="-585.4" y="-19.1" font-size="40" textLength="23.1" lengthAdjust="spacingAndGlyphs">-</tspan><tspan x="-559.3" y="-18.2" font-size="33" textLength="22.9" lengthAdjust="spacingAndGlyphs">2</tspan> <tspan x="-508.8" y="-1.3" font-size="52" font-style="italic" textLength="45.3" lengthAdjust="spacingAndGlyphs">μ</tspan><tspan x="-462.4" y="-1.3" font-size="52" textLength="53.1" lengthAdjust="spacingAndGlyphs">m</tspan><tspan x="-403.0" y="-19.1" font-size="40" textLength="21.9" lengthAdjust="spacingAndGlyphs">-</tspan><tspan x="-372.5" y="-0.8" font-size="52" font-family="DejaVu Serif Condensed, DejaVu Serif, serif" textLength="26.0" lengthAdjust="spacingAndGlyphs">1</tspan><tspan x="-342.0" y="1.2" font-size="66.5" textLength="24.5" lengthAdjust="spacingAndGlyphs">)</tspan></text>
<text transform="translate(601.7 0) rotate(-90)" stroke-width="2.6"><tspan x="-1120.1" y="2.2" font-size="64.4" font-family="DejaVu Serif Condensed, DejaVu Serif, serif" textLength="20.2" lengthAdjust="spacingAndGlyphs">[</tspan><tspan x="-1098.4" y="-1.3" font-size="52">S</tspan> <tspan x="-1032.5" y="-1.3" font-size="52" font-family="DejaVu Serif Condensed, DejaVu Serif, serif" textLength="28.4" lengthAdjust="spacingAndGlyphs">X</tspan><tspan x="-997.3" y="-1.3" font-size="52" font-weight="bold" textLength="10.7" lengthAdjust="spacingAndGlyphs">I</tspan><tspan x="-980.1" y="2.2" font-size="64.4" font-family="DejaVu Serif Condensed, DejaVu Serif, serif" textLength="20.2" lengthAdjust="spacingAndGlyphs">]</tspan></text>
<text transform="translate(645.8 0) rotate(-90)" stroke-width="2.6"><tspan x="-695.5" y="-1.3" font-size="52" font-family="DejaVu Serif Condensed, DejaVu Serif, serif" textLength="34.3" lengthAdjust="spacingAndGlyphs">H</tspan><tspan x="-656.8" y="14.8" font-size="33" textLength="21.6" lengthAdjust="spacingAndGlyphs">2</tspan></text>
<text transform="translate(679.5 0) rotate(-90)" stroke-width="2.6"><tspan x="-598.7" y="2.2" font-size="64.4" font-family="DejaVu Serif Condensed, DejaVu Serif, serif" textLength="18.2" lengthAdjust="spacingAndGlyphs">[</tspan><tspan x="-581.1" y="-1.3" font-size="52">S</tspan><tspan x="-542.2" y="-1.3" font-size="52" font-family="DejaVu Serif Condensed, DejaVu Serif, serif" textLength="13.1" lengthAdjust="spacingAndGlyphs">i</tspan> <tspan x="-493.5" y="-1.3" font-size="52" font-weight="bold" textLength="20.9" lengthAdjust="spacingAndGlyphs">V</tspan><tspan x="-458.9" y="-1.3" font-size="52" font-weight="bold" textLength="11.7" lengthAdjust="spacingAndGlyphs">I</tspan><tspan x="-439.9" y="2.2" font-size="64.4" font-family="DejaVu Serif Condensed, DejaVu Serif, serif" textLength="19.6" lengthAdjust="spacingAndGlyphs">]</tspan></text>
<text transform="translate(816.0 0) rotate(-90)" stroke-width="2.6"><tspan x="-842.0" y="-1.3" font-size="52" font-family="DejaVu Serif Condensed, DejaVu Serif, serif" textLength="37.1" lengthAdjust="spacingAndGlyphs">H</tspan><tspan x="-803.4" y="14.8" font-size="33" textLength="22.3" lengthAdjust="spacingAndGlyphs">2</tspan></text>
<text transform="translate(986.5 0) rotate(-90)" stroke-width="2.6"><tspan x="-773.6" y="-1.3" font-size="52" font-family="DejaVu Serif Condensed, DejaVu Serif, serif" textLength="36.3" lengthAdjust="spacingAndGlyphs">H</tspan><tspan x="-735.4" y="14.8" font-size="33" textLength="22.3" lengthAdjust="spacingAndGlyphs">2</tspan></text>
<text transform="translate(1077.9 0) rotate(-90)" stroke-width="2.6"><tspan x="-865.9" y="-1.3" font-size="52" textLength="35.5" lengthAdjust="spacingAndGlyphs">B</tspan><tspan x="-827.4" y="-1.3" font-size="52" textLength="23.1" lengthAdjust="spacingAndGlyphs">r</tspan><tspan x="-796.9" y="-6.6" font-size="40" textLength="36.9" lengthAdjust="spacingAndGlyphs">-</tspan><tspan x="-760.6" y="-1.3" font-size="52" font-style="italic" textLength="36.4" lengthAdjust="spacingAndGlyphs">γ</tspan></text>
<text stroke-width="3.0"><tspan x="498.9" y="1389.7" font-size="42.5" textLength="30.2" lengthAdjust="spacingAndGlyphs">2</tspan><tspan x="527.8" y="1389.7" font-size="42.5" textLength="13.2" lengthAdjust="spacingAndGlyphs">.</tspan><tspan x="541.7" y="1389.7" font-size="42.5" textLength="27.7" lengthAdjust="spacingAndGlyphs">0</tspan></text>
<text stroke-width="3.0"><tspan x="867.3" y="1389.7" font-size="42.5" textLength="30.2" lengthAdjust="spacingAndGlyphs">2</tspan><tspan x="896.2" y="1389.7" font-size="42.5" textLength="13.2" lengthAdjust="spacingAndGlyphs">.</tspan><tspan x="909.8" y="1389.7" font-size="42.5" textLength="29.6" lengthAdjust="spacingAndGlyphs">2</tspan></text>
<text stroke-width="3.0"><tspan x="1235.4" y="1389.7" font-size="42.5" textLength="30.2" lengthAdjust="spacingAndGlyphs">2</tspan><tspan x="1264.3" y="1389.7" font-size="42.5" textLength="13.2" lengthAdjust="spacingAndGlyphs">.</tspan><tspan x="1279.9" y="1389.7" font-size="42.5" textLength="25.1" lengthAdjust="spacingAndGlyphs">4</tspan></text>
<text stroke-width="3.0"><tspan x="112.7" y="1219.1" font-size="42.5" textLength="29.3" lengthAdjust="spacingAndGlyphs">0</tspan></text>
<text stroke-width="3.0"><tspan x="118.4" y="961.4" font-size="42.5" font-family="DejaVu Serif Condensed, DejaVu Serif, serif" textLength="19.6" lengthAdjust="spacingAndGlyphs">1</tspan></text>
<text stroke-width="3.0"><tspan x="112.4" y="703.7" font-size="42.5" textLength="31.4" lengthAdjust="spacingAndGlyphs">2</tspan></text>
<text stroke-width="3.0"><tspan x="112.1" y="446.0" font-size="42.5" textLength="30.4" lengthAdjust="spacingAndGlyphs">3</tspan></text>
<text stroke-width="3.0"><tspan x="114.4" y="188.3" font-size="42.5">4</tspan></text>
</g>
</svg>
</body></html>
